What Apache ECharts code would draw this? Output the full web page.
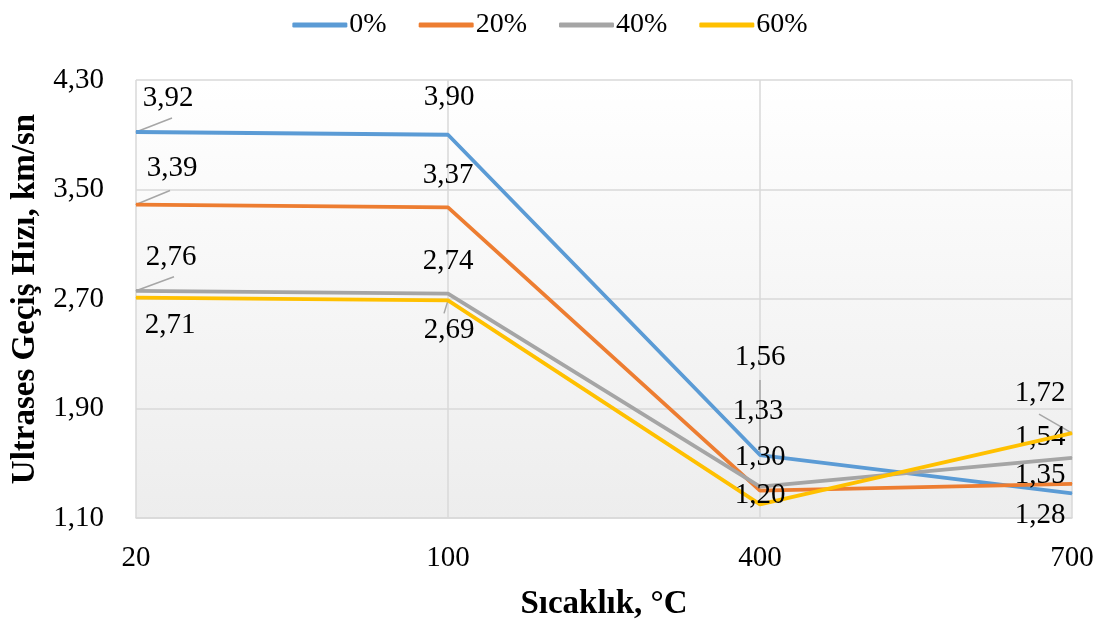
<!DOCTYPE html>
<html>
<head>
<meta charset="utf-8">
<script src="https://cdn.jsdelivr.net/npm/echarts@6/dist/echarts.min.js"></script>
<style>
html, body { margin: 0; padding: 0; background: #fff; }
#main { width: 1100px; height: 622px; }
</style>
</head>
<body>
<div id="main"></div>
<script>
var categories = ['20', '100', '400', '700'];
var seriesNames = ['0%', '20%', '40%', '60%'];
var v0 = [3.92, 3.90, 1.56, 1.28];
var v20 = [3.39, 3.37, 1.30, 1.35];
var v40 = [2.76, 2.74, 1.33, 1.54];
var v60 = [2.71, 2.69, 1.20, 1.72];
var colors = ['#5b9bd5', '#ed7d31', '#a5a5a5', '#ffc000'];

// label centre relative to the point (px)
var labelOffsets = [
    [[32, -34], [1, -37], [0, -98], [-32, 22]],
    [[36, -36], [0, -32], [0, -33], [-32, -8]],
    [[35, -33], [0, -32], [-2, -75], [-32, -20]],
    [[34, 28], [1, 30], [0, -9], [-32, -40]]
];
// leader line end relative to the label centre, null = no leader
var leaderEnds = [
    [[4, 20], null, [0, 23], null],
    [[-2, 22], null, null, null],
    [[3, 19], null, null, null],
    [null, [-5, -17], null, [-1, 21]]
];

var font = 'Liberation Serif';
var allValues = [v0, v20, v40, v60];

function fmt(v) {
    return Number(v).toFixed(2).replace('.', ',');
}

var chart = echarts.init(document.getElementById('main'));

var series = allValues.map(function (vals, s) {
    return {
        name: seriesNames[s],
        type: 'line',
        symbol: 'circle',
        symbolSize: 1,
        showSymbol: true,
        lineStyle: { width: 3.8, color: colors[s] },
        itemStyle: { color: colors[s] },
        label: {
            show: true,
            position: 'top',
            color: '#000',
            fontFamily: font,
            fontSize: 29,
            formatter: function (p) { return fmt(p.value); }
        },
        labelLayout: function (p) {
            var o = labelOffsets[s][p.dataIndex];
            var cx = p.rect.x + p.rect.width / 2;
            var cy = p.rect.y + p.rect.height / 2;
            return {
                x: cx + o[0],
                y: cy + o[1],
                align: 'center',
                verticalAlign: 'middle'
            };
        },
        data: vals,
        z: 2 + s
    };
});

var option = {
    backgroundColor: '#fff',
    animation: false,
    color: colors,
    legend: {
        top: 6,
        left: 'center',
        icon: 'roundRect',
        itemWidth: 55,
        itemHeight: 5,
        itemGap: 32,
        textStyle: { fontFamily: font, fontSize: 28, color: '#000', padding: [0, 0, 0, -3] },
        data: seriesNames
    },
    grid: {
        left: 136,
        right: 28,
        top: 80,
        bottom: 104,
        outerBoundsMode: 'none',
        containLabel: false,
        show: true,
        borderWidth: 0,
        backgroundColor: new echarts.graphic.LinearGradient(0, 0, 0, 1, [
            { offset: 0, color: '#ffffff' },
            { offset: 1, color: '#ededed' }
        ])
    },
    xAxis: {
        type: 'category',
        data: categories,
        boundaryGap: false,
        name: 'Sıcaklık, °C',
        nameLocation: 'middle',
        nameGap: 70,
        nameTextStyle: { fontFamily: font, fontSize: 33, fontWeight: 'bold', color: '#000' },
        axisLine: { show: true, lineStyle: { color: '#d9d9d9', width: 1.5 } },
        axisTick: { show: false },
        axisLabel: { fontFamily: font, fontSize: 29, color: '#000', margin: 26 },
        splitLine: { show: true, lineStyle: { color: '#d9d9d9', width: 1.5 } }
    },
    yAxis: {
        type: 'value',
        min: 1.1,
        max: 4.3,
        interval: 0.8,
        name: 'Ultrases Geçiş Hızı, km/sn',
        nameLocation: 'middle',
        nameGap: 94,
        nameRotate: 90,
        nameTextStyle: { fontFamily: font, fontSize: 33, fontWeight: 'bold', color: '#000' },
        axisLine: { show: false },
        axisTick: { show: false },
        axisLabel: {
            fontFamily: font, fontSize: 29, color: '#000', margin: 32,
            formatter: function (v) { return fmt(v); }
        },
        splitLine: { show: true, lineStyle: { color: '#d9d9d9', width: 1.5 } }
    },
    series: series
};

chart.setOption(option);

// leader lines from the data point to the moved label
var leaderLines = [];
allValues.forEach(function (vals, s) {
    vals.forEach(function (v, i) {
        var le = leaderEnds[s][i];
        if (!le) return;
        var pt = chart.convertToPixel({ gridIndex: 0 }, [i, v]);
        var o = labelOffsets[s][i];
        leaderLines.push({
            type: 'line',
            z: 1,
            shape: { x1: pt[0], y1: pt[1], x2: pt[0] + o[0] + le[0], y2: pt[1] + o[1] + le[1] },
            style: { stroke: '#a6a6a6', lineWidth: 1.5 }
        });
    });
});
chart.setOption({ graphic: leaderLines });
</script>
</body>
</html>
